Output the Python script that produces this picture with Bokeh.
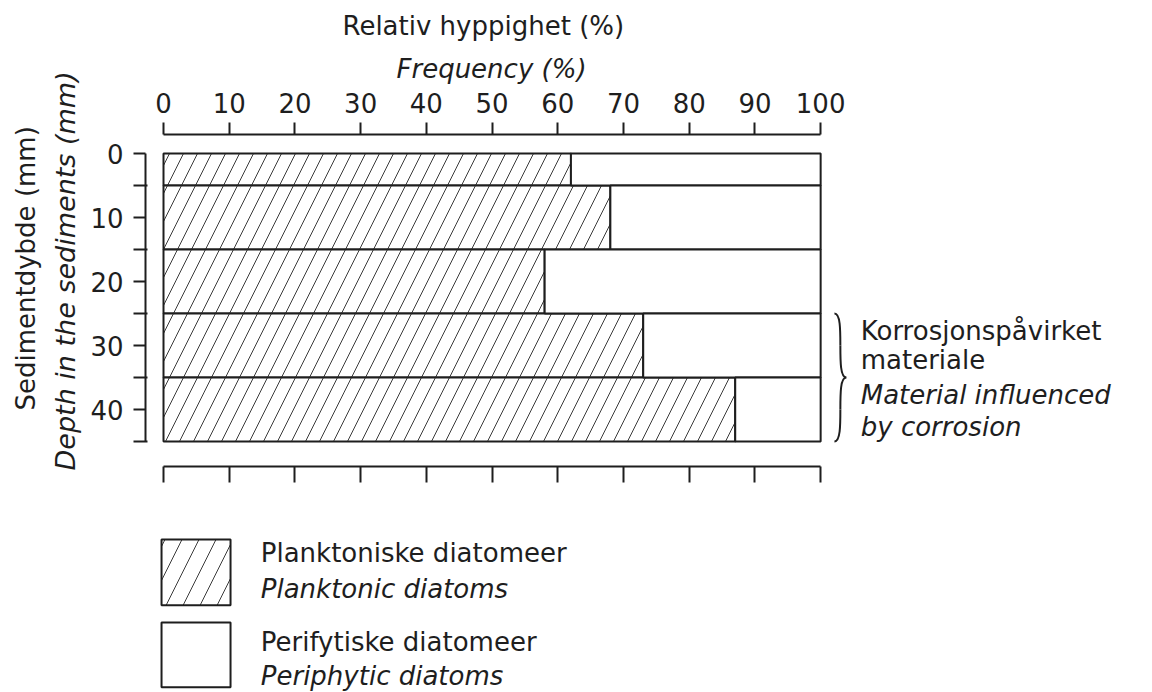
from bokeh.plotting import figure
from bokeh.models import (Range1d, LinearAxis, FixedTicker, Label, BoxAnnotation,
                          ColumnDataSource, Title)
from bokeh.embed import file_html
from bokeh.resources import INLINE

# ---------------- data ----------------
depth_top = [0, 5, 15, 25, 35]          # mm
depth_bottom = [5, 15, 25, 35, 45]      # mm
planktonic = [62, 68, 58, 73, 87]       # %
periphytic = [38, 32, 42, 27, 13]       # %
x_ticks = [0, 10, 20, 30, 40, 50, 60, 70, 80, 90, 100]
y_ticks = [0, 10, 20, 30, 40]
y_minor = [5, 15, 25, 35, 45]
corrosion_span = [25, 45]               # mm, material influenced by corrosion

FONT = "DejaVu Sans"
INK = "#1e1e1e"
FS = "26px"

p = figure(width=1152, height=692, title=None,
           x_range=Range1d(-2.74, 150.5), y_range=Range1d(84.22, -2.97),
           x_axis_location="above",
           output_backend="svg", toolbar_location=None,
           min_border_left=145, min_border_right=0,
           min_border_top=134, min_border_bottom=0)
p.grid.visible = False
p.outline_line_color = None
p.background_fill_color = "white"
p.border_fill_color = "white"

# ---------------- bars ----------------
stack_end = [a + b for a, b in zip(planktonic, periphytic)]
src = ColumnDataSource(dict(top=depth_top, bottom=depth_bottom,
                            plank=planktonic, end=stack_end))
p.quad(left=0, right="plank", top="top", bottom="bottom", source=src,
       fill_color="white", line_color=INK, line_width=2,
       hatch_pattern="/", hatch_color="#3a3a3a", hatch_scale=28, hatch_weight=1)
p.quad(left="plank", right="end", top="top", bottom="bottom", source=src,
       fill_color="white", line_color=INK, line_width=2)

# ---------------- axes ----------------
def style_axis(ax):
    ax.axis_line_color = INK
    ax.axis_line_width = 2
    ax.major_tick_line_color = INK
    ax.major_tick_line_width = 2
    ax.minor_tick_line_color = INK
    ax.minor_tick_line_width = 2
    ax.major_label_text_font = FONT
    ax.major_label_text_font_size = FS
    ax.major_label_text_color = INK

top = p.xaxis[0]
top.ticker = FixedTicker(ticks=x_ticks, minor_ticks=[])
top.bounds = (0, 100)
style_axis(top)
top.major_tick_out = 12
top.major_tick_in = 0
top.major_label_standoff = 10

left = p.yaxis[0]
left.ticker = FixedTicker(ticks=y_ticks, minor_ticks=y_minor)
left.bounds = (0, 45)
style_axis(left)
left.major_tick_out = 12
left.major_tick_in = 0
left.minor_tick_out = 12
left.minor_tick_in = 2
left.major_label_standoff = 10

# axis titles (two languages)
def title(text, side, offset, standoff, italic=False, size=FS):
    p.add_layout(Title(text=text, align="left", offset=offset, standoff=standoff,
                       text_font=FONT, text_font_size=size, text_color=INK,
                       text_font_style="italic" if italic else "normal"), side)

title("Frequency (%)", "above", 251, 12, italic=True)
title("Relativ hyppighet (%)", "above", 197, 10)
title("Depth in the sediments (mm)", "left", 222, 14, italic=True, size="27px")
title("Sedimentdybde (mm)", "left", 282, 0)

# bottom scale line (no labels), drawn at the foot of the diagram
bottom = LinearAxis(ticker=FixedTicker(ticks=x_ticks, minor_ticks=[]), bounds=(0, 100),
                    fixed_location=48.9)
style_axis(bottom)
bottom.major_tick_out = 0
bottom.major_tick_in = 16
bottom.major_label_text_font_size = "0px"
bottom.major_label_standoff = 0
p.add_layout(bottom, "above")

# ---------------- corrosion brace ----------------
c0, c1 = corrosion_span
cm = (c0 + c1) / 2
q = (c1 - c0) / 4
bx, bw = 103.0, 0.9
brace = ColumnDataSource(dict(
    x0=[bx - bw, bx, bx + bw, bx], y0=[c0, c0 + q, cm, cm + q],
    x1=[bx, bx + bw, bx, bx - bw], y1=[c0 + q, cm, cm + q, c1],
    cx0=[bx, bx, bx, bx], cy0=[c0, c0 + 1.5 * q, cm, cm + 1.5 * q],
    cx1=[bx, bx, bx, bx], cy1=[c0 + 0.5 * q, cm, cm + 0.5 * q, c1],
))
p.bezier(x0="x0", y0="y0", x1="x1", y1="y1", cx0="cx0", cy0="cy0",
         cx1="cx1", cy1="cy1", source=brace, line_color=INK, line_width=2)

def label(x, y, text, italic=False):
    p.add_layout(Label(x=x, y=y, text=text, text_font=FONT, text_font_size=FS,
                       text_font_style="italic" if italic else "normal",
                       text_color=INK, text_align="left", text_baseline="middle"))

label(106.1, 27.8, "Korrosjonspåvirket")
label(106.1, 32.2, "materiale")
label(106.1, 37.8, "Material influenced", italic=True)
label(106.1, 42.8, "by corrosion", italic=True)

# ---------------- legend ----------------
p.add_layout(BoxAnnotation(left=-0.3, right=10.2, top=60.3, bottom=70.6,
                           fill_color="white", fill_alpha=1.0,
                           line_color=INK, line_width=2, line_alpha=1.0,
                           hatch_pattern="/", hatch_color="#3a3a3a",
                           hatch_scale=34, hatch_weight=1, level="overlay"))
p.add_layout(BoxAnnotation(left=-0.3, right=10.2, top=73.3, bottom=83.4,
                           fill_color="white", fill_alpha=1.0,
                           line_color=INK, line_width=2, line_alpha=1.0,
                           level="overlay"))
label(14.8, 62.5, "Planktoniske diatomeer")
label(14.8, 68.0, "Planktonic diatoms", italic=True)
label(14.8, 76.4, "Perifytiske diatomeer")
label(14.8, 81.6, "Periphytic diatoms", italic=True)

open("out.html", "w").write(file_html(p, INLINE))
